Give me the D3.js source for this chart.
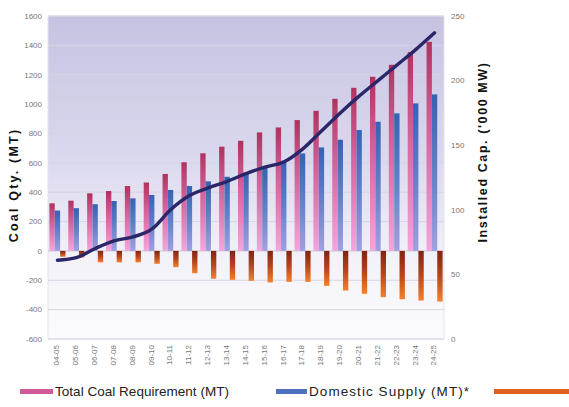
<!DOCTYPE html>
<html>
<head>
<meta charset="utf-8">
<script src="https://cdn.jsdelivr.net/npm/d3@7"></script>
<style>
  body { margin: 0; background: #fff; }
  svg { display: block; font-family: "Liberation Sans", Arial, sans-serif; }
</style>
</head>
<body>
<div id="chart"></div>
<script>
const years = ["04-05", "05-06", "06-07", "07-08", "08-09", "09-10", "10-11", "11-12", "12-13", "13-14",
  "14-15", "15-16", "16-17", "17-18", "18-19", "19-20", "20-21", "21-22", "22-23", "23-24", "24-25"];
const totalReq = [324, 342, 392, 408, 442, 466, 524, 604, 665, 710, 750, 807, 841, 891, 954, 1036, 1111, 1186, 1268, 1354, 1424];
const domestic = [275, 291, 318, 340, 358, 381, 415, 442, 474, 505, 534, 566, 614, 664, 705, 757, 823, 880, 937, 1005, 1066];
const shortfall = [-40, -45, -78, -78, -78, -88, -111, -152, -190, -197, -204, -215, -211, -211, -238, -270, -292, -315, -329, -338, -345];
const installed = [61, 63, 70, 76, 79, 85, 100, 111, 117, 122, 128, 133, 137, 147, 161, 175, 188, 200, 212, 224, 237];
const leftTicks = [1600, 1400, 1200, 1000, 800, 600, 400, 200, 0, -200, -400, -600];
const rightTicks = [250, 200, 150, 100, 50, 0];

const W = 569, H = 407;
const plot = { left: 48, right: 444, top: 16, bottom: 339 };

const svg = d3.select("#chart").append("svg")
  .attr("width", W)
  .attr("height", H);

const defs = svg.append("defs");

function vGrad(id, stops) {
  const g = defs.append("linearGradient")
    .attr("id", id)
    .attr("x1", 0).attr("y1", 0).attr("x2", 0).attr("y2", 1);
  stops.forEach(s => g.append("stop").attr("offset", s[0]).attr("stop-color", s[1]));
}
vGrad("bgGrad", [[0, "#c6c3e2"], [0.45, "#dbd9ee"], [0.75, "#f3f2f9"], [1, "#fbfbfd"]]);
vGrad("pinkGrad", [[0, "#b0325e"], [0.4, "#d2609a"], [1, "#f4a6dc"]]);
vGrad("blueGrad", [[0, "#3562b2"], [0.5, "#6280c8"], [1, "#a0a0e0"]]);
vGrad("orangeGrad", [[0, "#7e2412"], [0.5, "#b8461c"], [1, "#f4812c"]]);

const x0 = d3.scaleBand()
  .domain(years)
  .range([plot.left, plot.right])
  .paddingInner(0.15)
  .paddingOuter(0.075);

const x1 = d3.scaleBand()
  .domain(["req", "dom", "short"])
  .range([0, x0.bandwidth()]);

const yLeft = d3.scaleLinear().domain([-600, 1600]).range([plot.bottom, plot.top]);
const yRight = d3.scaleLinear().domain([0, 250]).range([plot.bottom, plot.top]);

// plot background
svg.append("rect")
  .attr("x", plot.left)
  .attr("y", plot.top)
  .attr("width", plot.right - plot.left)
  .attr("height", plot.bottom - plot.top)
  .attr("fill", "url(#bgGrad)")
  .attr("stroke", "#e4e4ec")
  .attr("stroke-width", 1);

// gridlines
svg.append("g")
  .selectAll("line")
  .data(leftTicks)
  .enter()
  .append("line")
  .attr("x1", plot.left)
  .attr("x2", plot.right)
  .attr("y1", d => yLeft(d))
  .attr("y2", d => yLeft(d))
  .attr("stroke", d => d === 0 ? "#c9c9d4" : "#d6d5e3")
  .attr("stroke-width", 1);

// left axis labels
svg.append("g")
  .selectAll("text")
  .data(leftTicks)
  .enter()
  .append("text")
  .attr("x", 42)
  .attr("y", d => yLeft(d))
  .attr("dy", "0.35em")
  .attr("text-anchor", "end")
  .style("font-size", "8px")
  .style("fill", "#777")
  .text(d => d);

// right axis labels
svg.append("g")
  .selectAll("text")
  .data(rightTicks)
  .enter()
  .append("text")
  .attr("x", 451)
  .attr("y", d => yRight(d))
  .attr("dy", "0.35em")
  .attr("text-anchor", "start")
  .style("font-size", "8px")
  .style("fill", "#777")
  .text(d => d);

// bars
const rows = years.map((y, i) => ({ year: y, req: totalReq[i], dom: domestic[i], short: shortfall[i] }));
const fills = { req: "url(#pinkGrad)", dom: "url(#blueGrad)", short: "url(#orangeGrad)" };

const groups = svg.append("g")
  .selectAll("g")
  .data(rows)
  .enter()
  .append("g")
  .attr("transform", d => `translate(${x0(d.year)},0)`);

groups.selectAll("rect")
  .data(d => ["req", "dom", "short"].map(k => ({ key: k, value: d[k] })))
  .enter()
  .append("rect")
  .attr("x", d => x1(d.key))
  .attr("width", x1.bandwidth())
  .attr("y", d => yLeft(Math.max(0, d.value)))
  .attr("height", d => Math.abs(yLeft(d.value) - yLeft(0)))
  .attr("fill", d => fills[d.key]);

// installed capacity line
const line = d3.line()
  .x((d, i) => x0(years[i]) + x0.bandwidth() / 2)
  .y(d => yRight(d))
  .curve(d3.curveMonotoneX);

svg.append("path")
  .datum(installed)
  .attr("fill", "none")
  .attr("stroke", "#2a2769")
  .attr("stroke-width", 3.4)
  .attr("stroke-linejoin", "round")
  .attr("stroke-linecap", "round")
  .attr("d", line);

// x labels
svg.append("g")
  .selectAll("text")
  .data(years)
  .enter()
  .append("text")
  .attr("transform", d => `translate(${x0(d) + x0.bandwidth() / 2 - 1},345) rotate(-90)`)
  .attr("dy", "0.35em")
  .attr("text-anchor", "end")
  .style("font-size", "8px")
  .style("fill", "#777")
  .text(d => d);

// axis titles
svg.append("text")
  .attr("transform", `translate(18,185) rotate(-90)`)
  .attr("text-anchor", "middle")
  .style("font-size", "12.5px")
  .style("font-weight", "bold")
  .style("letter-spacing", "2.2px")
  .style("fill", "#111")
  .text("Coal Qty. (MT)");

svg.append("text")
  .attr("transform", `translate(487,152) rotate(-90)`)
  .attr("text-anchor", "middle")
  .style("font-size", "12.5px")
  .style("font-weight", "bold")
  .style("letter-spacing", "1.6px")
  .style("fill", "#111")
  .text("Installed Cap. ('000 MW)");

// legend
const legend = [
  { label: "Total Coal Requirement (MT)", fill: "#d05a9a", x: 20, w: 33, tw: 174 },
  { label: "Domestic Supply (MT)*", fill: "#4f6fbf", x: 276, w: 31, tw: 160 },
  { label: "", fill: "#e0601e", x: 494, w: 75, tw: 0 }
];

const lg = svg.append("g")
  .selectAll("g")
  .data(legend)
  .enter()
  .append("g")
  .attr("transform", d => `translate(${d.x},389)`);

lg.append("rect")
  .attr("width", d => d.w)
  .attr("height", 5)
  .attr("fill", d => d.fill);

lg.filter(d => d.label)
  .append("text")
  .attr("x", d => d.w + 2)
  .attr("y", 7)
  .attr("textLength", d => d.tw)
  .attr("lengthAdjust", "spacing")
  .style("font-size", "13.5px")
  .style("fill", "#222")
  .text(d => d.label);
</script>
</body>
</html>
